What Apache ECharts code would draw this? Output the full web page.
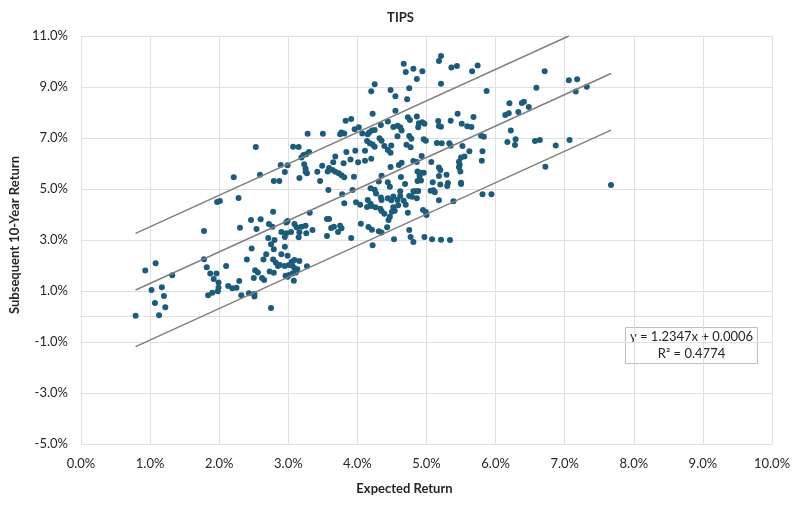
<!DOCTYPE html>
<html><head><meta charset="utf-8">
<script src="https://cdn.jsdelivr.net/npm/echarts@6/dist/echarts.min.js"></script>
<style>html,body{margin:0;padding:0;background:#fff}#chart{width:801px;height:513px}</style>
</head><body><div id="chart"></div>
<script>
const chartTitle = 'TIPS';
const xAxisTitle = 'Expected Return';
const yAxisTitle = 'Subsequent 10-Year Return';
const xRange = [0, 10, 1];
const yRange = [-5, 11, 2];
// [expected return %, subsequent 10-year return %]
const points = [
[2.21,5.46],[2.28,4.65],[1.97,4.49],[2.01,4.53],[2.30,3.48],[1.78,3.35],[1.78,2.25],[1.82,1.93],[2.10,1.98],[1.87,1.69],
[1.96,1.69],[1.92,1.47],[1.99,1.33],[2.29,1.39],[2.13,1.20],[2.19,1.11],[2.25,1.13],[1.99,1.13],[1.98,0.99],[1.90,0.93],
[1.84,0.83],[2.32,0.83],[0.93,1.80],[1.08,2.09],[1.32,1.62],[1.02,1.04],[1.17,1.15],[1.20,0.80],[1.07,0.53],[1.22,0.36],
[0.79,0.03],[1.13,0.05],[4.22,7.95],[3.83,7.68],[3.91,7.75],[3.28,7.17],[3.50,7.17],[3.75,7.15],[3.77,7.22],[3.81,7.18],
[3.96,7.34],[4.02,7.42],[4.07,7.18],[4.15,7.15],[4.17,7.22],[4.21,7.29],[4.25,7.31],[4.34,7.51],[4.32,6.99],[4.35,6.89],
[4.14,6.88],[4.18,6.79],[4.22,6.75],[4.25,6.66],[4.11,6.50],[2.53,6.65],[3.07,6.66],[3.15,6.65],[3.30,6.45],[3.26,6.36],
[3.22,6.33],[3.19,6.24],[3.84,6.45],[3.97,6.50],[4.11,6.11],[4.20,6.19],[3.68,6.27],[3.90,6.16],[4.01,6.05],[3.65,6.05],
[3.80,6.01],[2.89,5.94],[2.99,5.93],[3.23,5.97],[3.25,5.80],[3.49,5.91],[3.59,5.82],[2.95,5.67],[3.25,5.68],[3.27,5.62],
[3.42,5.68],[3.57,5.69],[3.64,5.75],[3.68,5.68],[3.73,5.62],[3.77,5.54],[3.81,5.46],[3.95,5.48],[2.59,5.56],[2.79,5.31],
[2.87,5.31],[3.16,5.43],[3.46,5.31],[3.58,4.96],[3.78,4.79],[3.93,4.96],[3.98,4.48],[4.04,4.38],[3.81,4.44],[4.31,5.29],
[4.35,5.52],[4.19,5.03],[4.25,4.97],[4.27,4.82],[4.34,4.67],[4.35,4.57],[4.15,4.57],[4.19,4.42],[4.20,4.33],[4.14,4.29],
[4.26,4.28],[4.33,4.23],[4.35,4.14],[4.39,4.03],[4.05,3.64],[4.16,3.51],[4.21,3.40],[4.31,3.34],[4.35,3.29],[4.22,2.79],
[3.91,3.08],[3.56,3.82],[3.59,3.82],[3.62,3.47],[3.66,3.52],[3.75,3.56],[3.77,3.46],[3.72,3.31],[3.56,3.16],[3.35,3.39],
[2.46,3.78],[2.60,3.81],[2.78,4.11],[2.72,3.63],[2.77,3.52],[2.97,3.69],[2.99,3.75],[3.09,3.63],[3.12,3.50],[3.19,3.52],
[3.25,3.56],[3.31,4.07],[2.54,3.43],[2.90,3.31],[2.97,3.26],[2.95,3.12],[3.04,3.31],[3.16,3.30],[3.15,3.11],[3.26,3.26],
[2.71,3.08],[2.47,2.67],[2.80,3.00],[2.75,2.83],[2.79,2.64],[2.95,2.74],[2.90,2.44],[2.99,2.38],[2.40,2.24],[2.64,2.24],
[2.68,2.44],[2.52,1.81],[2.56,1.73],[2.78,2.24],[2.82,2.11],[2.85,1.98],[2.88,2.02],[2.95,1.98],[3.01,2.02],[3.05,2.15],
[3.09,2.22],[3.16,2.18],[3.06,1.99],[3.09,1.89],[3.13,1.85],[3.11,1.73],[3.06,1.69],[3.01,1.63],[2.99,1.56],[2.96,1.60],
[3.08,1.40],[3.27,1.97],[2.73,1.76],[2.79,1.72],[2.50,1.51],[2.62,1.51],[2.65,1.43],[2.43,0.91],[2.51,0.88],[2.51,0.78],
[2.75,0.33],[4.25,9.11],[4.20,8.83],[5.21,10.22],[5.18,10.02],[4.67,9.91],[4.81,9.72],[4.70,9.59],[4.94,9.62],[5.36,9.76],
[5.44,9.82],[5.74,9.84],[5.66,9.62],[4.86,9.31],[5.21,9.13],[4.48,8.88],[4.75,8.95],[5.87,8.84],[4.55,8.64],[4.72,8.52],
[4.55,8.07],[4.44,7.65],[4.73,7.81],[4.76,7.71],[4.86,7.84],[4.52,7.43],[4.58,7.48],[4.62,7.42],[4.64,7.29],[4.89,7.58],
[4.94,7.62],[4.88,7.42],[4.97,7.56],[5.17,7.67],[5.18,7.47],[5.21,7.44],[5.35,7.68],[5.45,7.95],[5.51,7.56],[5.59,7.46],
[5.65,7.43],[5.68,7.82],[4.58,7.07],[4.75,7.08],[4.78,6.97],[4.71,6.74],[4.77,6.64],[4.96,6.95],[4.99,6.89],[5.15,6.80],
[5.22,6.79],[5.33,6.79],[5.35,6.70],[5.52,6.69],[5.79,7.09],[5.83,7.05],[5.81,6.48],[5.80,6.11],[5.62,6.48],[5.55,6.27],
[5.50,6.24],[5.47,6.07],[5.48,5.95],[5.47,5.85],[5.49,5.69],[5.50,5.25],[5.50,5.20],[4.49,6.71],[4.44,6.53],[4.48,6.42],
[4.93,6.29],[4.81,6.10],[4.86,6.06],[5.07,6.06],[5.18,5.84],[5.20,5.75],[4.87,5.69],[4.92,5.64],[4.90,5.51],[4.87,5.31],
[4.92,5.33],[4.96,5.64],[5.29,5.56],[5.09,5.26],[5.20,5.18],[5.31,5.24],[5.30,5.12],[5.10,4.95],[5.12,4.87],[4.48,5.86],
[4.60,5.94],[4.64,6.03],[4.63,5.47],[4.69,5.20],[4.47,5.09],[4.44,5.26],[4.81,4.91],[4.84,4.91],[4.88,4.92],[4.75,4.73],
[4.79,4.70],[4.62,4.91],[4.62,4.73],[4.52,4.71],[4.44,4.64],[4.49,4.56],[4.67,4.54],[4.70,4.38],[4.86,4.64],[4.52,4.28],
[4.54,4.15],[4.50,4.11],[4.47,3.91],[4.45,3.78],[4.73,4.07],[4.95,4.18],[4.99,4.10],[5.00,3.98],[5.18,4.56],[5.39,4.52],
[5.81,4.79],[5.94,4.79],[4.43,3.50],[4.75,3.39],[4.77,3.12],[4.81,2.92],[4.53,3.03],[4.97,3.12],[5.08,3.03],[5.21,3.01],
[5.34,3.00],[5.06,4.93],[5.18,5.51],[4.58,4.57],[4.59,4.36],[4.39,6.69],[6.71,9.62],[6.59,8.97],[6.20,8.36],[6.19,7.97],
[6.14,7.90],[6.33,8.02],[6.38,8.37],[6.41,8.42],[6.48,8.22],[6.22,7.29],[6.17,6.84],[6.29,6.95],[6.28,6.73],[6.57,6.88],
[6.64,6.92],[6.87,6.71],[6.72,5.87],[7.06,9.26],[7.18,9.30],[7.16,8.82],[7.32,9.01],[7.07,6.92],[7.67,5.16]
];
// regression line and band end points [x %, y %]
const fitLine = [[0.79, 1.04], [7.67, 9.53]];
const upperBand = [[0.79, 3.26], [7.06, 11.0]];
const lowerBand = [[0.79, -1.18], [7.67, 7.31]];
const equationLines = ['y = 1.2347x + 0.0006', 'R² = 0.4774'];

const font = 'Lato, "Open Sans", sans-serif';
const textColor = '#262626';
const gridColor = '#e0e0e0';
const chart = echarts.init(document.getElementById('chart'), null, {renderer: 'canvas'});
const pct = v => v.toFixed(1) + '%';
const lineSeries = (data) => ({
  type: 'line', data: data, symbol: 'none', silent: true, z: 3,
  lineStyle: {color: '#808080', width: 1.5}
});
chart.setOption({
  animation: false,
  backgroundColor: '#ffffff',
  title: {text: chartTitle, left: 'center', top: 6,
    textStyle: {fontFamily: font, fontSize: 13, fontWeight: 'bold', color: textColor}},
  grid: {left: 72, right: 29, top: 36, bottom: 69},
  xAxis: {
    type: 'value', min: xRange[0], max: xRange[1], interval: xRange[2],
    name: xAxisTitle, nameLocation: 'middle', nameGap: 38,
    nameTextStyle: {fontFamily: font, fontSize: 13, fontWeight: 'bold', color: textColor, padding: [0, 44, 0, 0]},
    axisLine: {show: true, lineStyle: {color: gridColor}},
    axisTick: {show: false},
    axisLabel: {formatter: pct, fontFamily: font, fontSize: 13, color: textColor, margin: 13},
    splitLine: {show: true, lineStyle: {color: gridColor}}
  },
  yAxis: {
    type: 'value', min: yRange[0], max: yRange[1], interval: yRange[2],
    name: yAxisTitle, nameLocation: 'middle', nameGap: 52,
    nameTextStyle: {fontFamily: font, fontSize: 13, fontWeight: 'bold', color: textColor, padding: [0, 0, 0, 10]},
    axisLine: {show: true, lineStyle: {color: gridColor}},
    axisTick: {show: false},
    axisLabel: {formatter: pct, fontFamily: font, fontSize: 13, color: textColor, margin: 13},
    splitLine: {show: true, lineStyle: {color: gridColor}}
  },
  series: [
    {type: 'scatter', data: points, symbolSize: 6, z: 2,
     itemStyle: {color: '#1b5c7c', opacity: 1}},
    lineSeries(upperBand),
    lineSeries(fitLine),
    lineSeries(lowerBand)
  ],
  graphic: [{
    type: 'group', left: 625, top: 327,
    children: [
      {type: 'rect', shape: {x: 0, y: 0, width: 132, height: 36},
       style: {fill: '#ffffff', stroke: '#bfbfbf', lineWidth: 1}},
      {type: 'text', x: 66, y: 18,
       style: {text: equationLines.join('\n'), align: 'center', verticalAlign: 'middle',
         font: '13px ' + font, fill: textColor, lineHeight: 17}}
    ]
  }]
});
</script>
</body></html>
